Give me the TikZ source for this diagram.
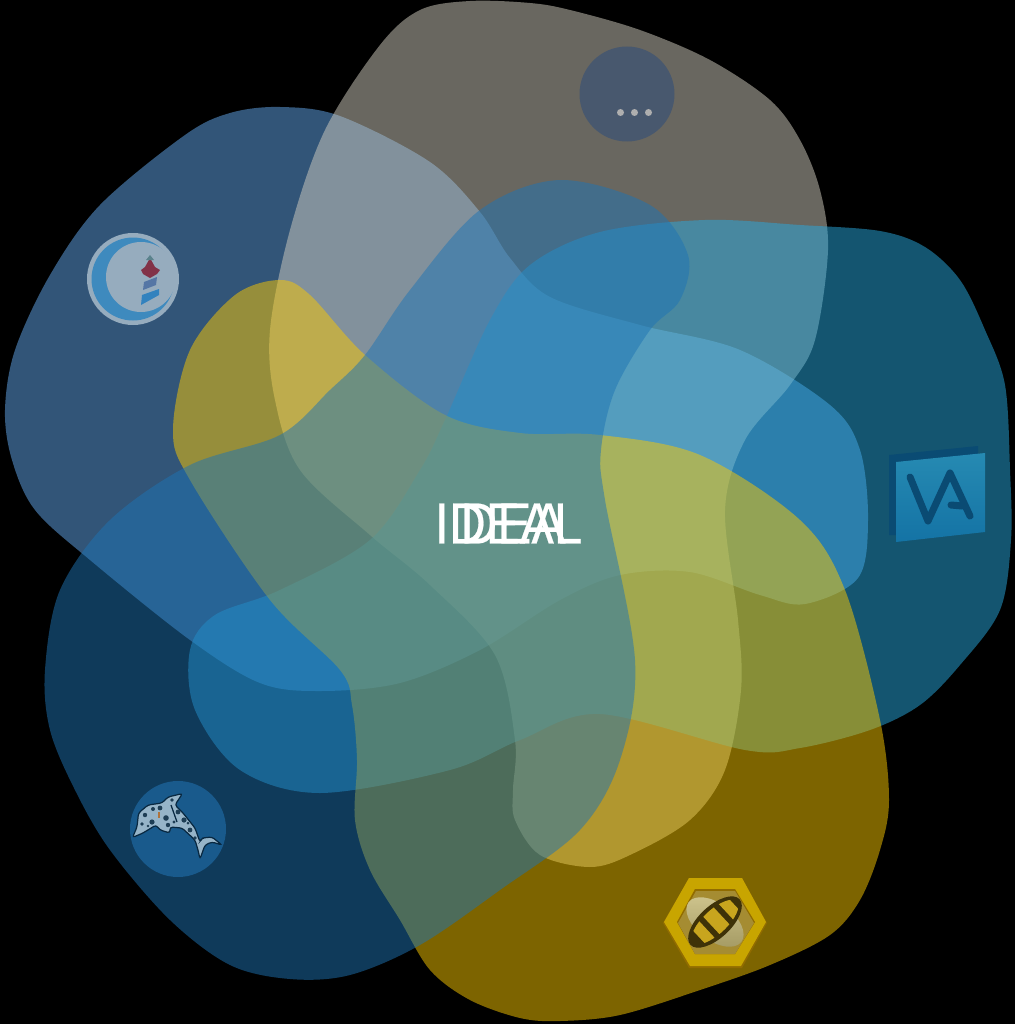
\documentclass[tikz,border=0pt]{standalone}
\usepackage{xcolor}
\usepackage{fontspec}
\setmainfont{Liberation Sans}
\newfontfamily\idealfont[FakeBold=0.4]{Liberation Sans}
\definecolor{blobblue}{RGB}{100, 170, 240}
\definecolor{blobgrey}{RGB}{210, 206, 192}
\definecolor{blobteal}{RGB}{40, 170, 224}
\definecolor{blobgold}{RGB}{250, 200, 0}
\definecolor{blobnavy}{RGB}{30, 116, 180}
\definecolor{hexgold}{RGB}{200, 165, 0}
\definecolor{hexdark}{RGB}{145, 108, 0}
\definecolor{beedark}{RGB}{62, 50, 8}
\definecolor{vadark}{RGB}{10, 75, 115}
\definecolor{towerred}{RGB}{130, 50, 72}
\definecolor{finskin}{RGB}{150, 180, 200}
\definecolor{morecircle}{RGB}{72, 88, 110}
\definecolor{moredot}{RGB}{175, 175, 175}
\definecolor{lightdisc}{RGB}{150, 172, 190}
\definecolor{lightring}{RGB}{62, 138, 190}
\definecolor{towertop}{RGB}{90, 130, 140}
\definecolor{towerband}{RGB}{85, 118, 165}
\definecolor{towerbase}{RGB}{50, 130, 190}
\definecolor{vatop}{RGB}{38, 138, 178}
\definecolor{vabottom}{RGB}{20, 115, 165}
\definecolor{hexinner}{RGB}{165, 140, 50}
\definecolor{beelight}{RGB}{205, 195, 140}
\definecolor{beeshade}{RGB}{165, 155, 100}
\definecolor{beegold}{RGB}{200, 165, 30}
\definecolor{dolphindisc}{RGB}{25, 90, 140}
\definecolor{dolphinline}{RGB}{8, 40, 65}
\definecolor{dolphinspot}{RGB}{30, 62, 85}
\definecolor{dolphineye}{RGB}{175, 115, 60}
\usetikzlibrary{calc}

\begin{document}
\begin{tikzpicture}[
    x=0.02cm, y=-0.02cm,
    blob/.style={fill=#1, fill opacity=0.5},
    title/.style={text=white, inner sep=0pt, font=\idealfont\fontsize{33pt}{33pt}\selectfont, xscale=0.88, transform shape},
    vastroke/.style={draw=vadark, line width=4pt, line cap=round, line join=round}
]
    \fill[black] (0,0) rectangle (1015,1024);
    \useasboundingbox (0,0) rectangle (1015,1024);

    % left
    \fill[blob=blobblue] plot[smooth cycle, tension=0.55] coordinates {(280,107) (340,116) (430,162) (480,212) (510,258) (550,297) (640,325) (740,350) (830,405) (860,450) (868,520) (858,578) (805,604) (760,595) (690,572) (620,575) (560,600) (480,650) (400,683) (320,691) (260,683) (190,640) (90,560) (35,510) (12,460) (5,410) (15,350) (50,275) (100,205) (185,135) (230,113)};
    % top
    \fill[blob=blobgrey] plot[smooth cycle, tension=0.55] coordinates {(470,1) (530,3) (570,10) (640,30) (710,60) (770,100) (800,140) (820,190) (828,250) (815,340) (790,385) (745,440) (725,510) (738,620) (741,690) (725,770) (690,820) (630,855) (590,867) (540,855) (515,820) (513,790) (515,740) (495,655) (430,585) (370,535) (300,470) (275,400) (270,330) (290,230) (325,130) (380,45) (420,10)};
    % right
    \fill[blob=blobteal] plot[smooth cycle, tension=0.55] coordinates {(705,220) (800,225) (880,231) (925,247) (960,280) (985,330) (1005,385) (1010,470) (1011,540) (1000,610) (960,665) (920,705) (870,730) (800,748) (745,750) (600,714) (520,740) (450,770) (320,793) (240,770) (195,710) (190,650) (215,615) (280,590) (370,540) (420,470) (445,420) (490,320) (530,265) (600,232)};
    % bottom
    \fill[blob=blobgold] plot[smooth cycle, tension=0.55] coordinates {(280,280) (310,295) (365,355) (445,415) (520,433) (600,435) (700,455) (800,520) (845,590) (880,720) (889,800) (880,850) (860,900) (830,935) (770,965) (700,990) (620,1015) (560,1021) (520,1018) (470,1000) (430,970) (400,920) (370,870) (355,820) (357,760) (352,705) (340,670) (270,600) (190,480) (173,430) (190,350) (235,295)};
    % bottom left
    \fill[blob=blobnavy] plot[smooth cycle, tension=0.55] coordinates {(560,180) (650,205) (688,255) (680,300) (650,330) (615,390) (601,450) (605,500) (635,660) (620,760) (580,830) (500,890) (420,945) (350,975) (290,979) (230,965) (170,920) (110,850) (75,790) (50,730) (45,670) (60,590) (110,520) (190,465) (280,435) (330,390) (365,355) (410,290) (480,210)};

    % more
    \fill[morecircle] (627,94) circle[radius=47.5];
    \foreach \dotx in {620.5,634.5,648.5} {
        \fill[moredot] (\dotx,112.5) circle[radius=3.5];
    }

    % lighthouse
    \fill[lightdisc] (133,279) circle[radius=46];
    \fill[lightring] (133,279) circle[radius=41.5];
    \fill[lightdisc] (141,277) circle[radius=35];
    \fill[towerred] (150,258) -- (155,267) -- (160,270) -- (157,274) -- (150,278) -- (143,274) -- (141,270) -- (145,267) -- cycle;
    \fill[towertop] (146,260) -- (150,255) -- (154,260) -- cycle;
    \fill[towerband] (144,282) -- (157,277) -- (156,285) -- (143,290) -- cycle;
    \fill[towerbase] (142,295) -- (159,289) -- (159,295) -- (141,305) -- cycle;

    % va
    \fill[vadark] (889,455) -- (978,446) -- (978,456) -- (896,465) -- (896,535) -- (889,535) -- cycle;
    \shade[top color=vatop, bottom color=vabottom] (896,462) -- (985,453) -- (985,532) -- (896,542) -- cycle;
    \draw[vastroke] (910,477) -- (928,521) -- (950,473) -- (970,516);
    \draw[vastroke] (951,505) -- (962,506);

    % hive
    \fill[hexdark] (689,878) -- (742,878) -- (767,923) -- (742,968) -- (689,968) -- (663,923) -- cycle;
    \fill[hexgold] (689,878) -- (742,878) -- (766,922) -- (741,966) -- (690,966) -- (664,922) -- cycle;
    \fill[hexdark] (695,889) -- (735,889) -- (755,922) -- (735,954) -- (695,954) -- (677,922) -- cycle;
    \fill[hexinner] (696,891) -- (735,891) -- (754,923) -- (735,954) -- (695,954) -- (678,923) -- cycle;
    \begin{scope}[shift={(715,922)}, rotate=-37]
        \shade[top color=beelight, bottom color=beeshade] (0,0) ellipse[x radius=33, y radius=18.5];
    \end{scope}
    \begin{scope}[shift={(715,922)}, rotate=43]
        \fill[beedark] (0,0) ellipse[x radius=33.5, y radius=16];
        \clip (0,0) ellipse[x radius=30, y radius=12];
        \fill[beegold] (-22,-13) rectangle (-11,13);
        \fill[beegold] (-5,-13) rectangle (9,13);
        \fill[beegold] (15,-13) rectangle (26,13);
    \end{scope}

    % dolphin
    \fill[dolphindisc] (178,829) circle[radius=48];
    \draw[fill=finskin, draw=dolphinline, line width=0.7pt, rounded corners=1.5pt] (132.5,837.5) -- (137,827) -- (138.5,813) -- (148,805) -- (162,803) -- (168,797) -- (182.5,793.5) -- (175,805) -- (183,813) -- (195,828) -- (200,842) -- (202,838) -- (212,837) -- (222,845) -- (212,842) -- (205,845) -- (200,859) -- (198,850) -- (195,840) -- (182,828) -- (170,827) -- (170,833) -- (160,830) -- (156,825) -- (143,833) -- cycle;
    \foreach \spotx/\spoty/\spotr in {145/815/2.2, 152/822/2.6, 160/808/2.4, 166/818/2.8, 172/800/1.8, 178/812/2.4, 184/820/2.6, 190/830/2.4, 195/838/1.8, 142/824/1.8, 153/809/2, 168/825/2.2, 174/822/1.6, 148/826/1.4, 188/823/1.5} {
        \fill[dolphinspot] (\spotx,\spoty) circle[radius=\spotr];
    }
    \draw[draw=dolphinline, line width=0.7pt] (171,805) -- (177,822);
    \draw[draw=dolphineye, line width=0.6pt] (159,812) -- (159,818);

    \node[title] (idealtext) at (508.5,523.5) {IDEAL};
    \node[title] (dealtext) at (513,523.5) {DEA};
\end{tikzpicture}
\end{document}
